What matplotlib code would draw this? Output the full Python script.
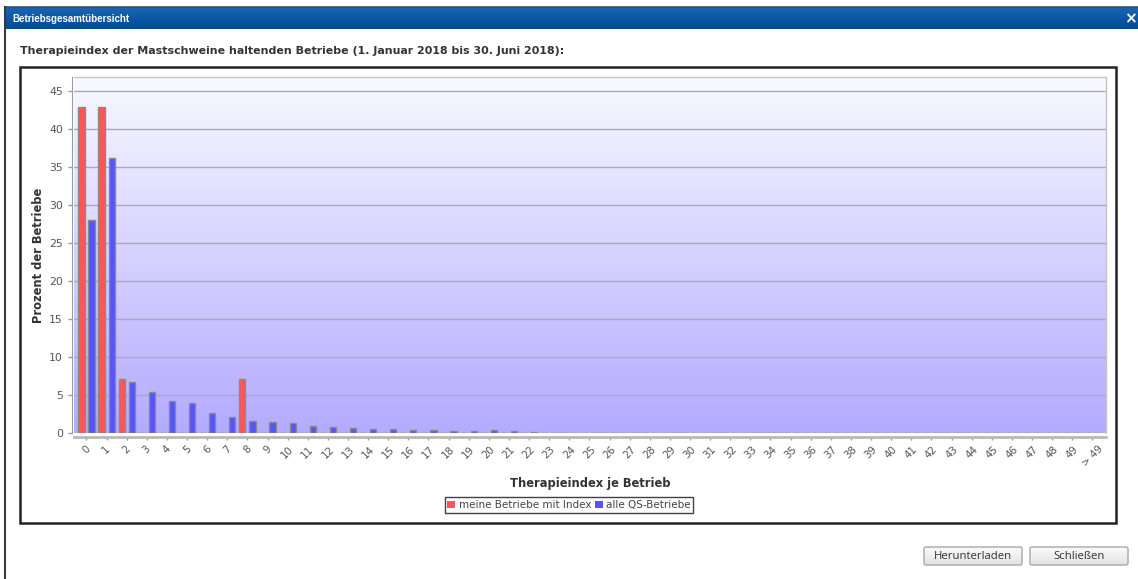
import matplotlib
matplotlib.use('Agg')
import matplotlib.pyplot as plt
import numpy as np
import matplotlib.patches as mpatches

plt.rcParams['font.family'] = ['DejaVu Sans']

# Therapieindex classes 0..49 plus the overflow class
categories = ['0', '1', '2', '3', '4', '5', '6', '7', '8', '9',
              '10', '11', '12', '13', '14', '15', '16', '17', '18', '19',
              '20', '21', '22', '23', '24', '25', '26', '27', '28', '29',
              '30', '31', '32', '33', '34', '35', '36', '37', '38', '39',
              '40', '41', '42', '43', '44', '45', '46', '47', '48', '49', '> 49']

# percent of own farms per class
meine_betriebe = [42.9, 42.9, 7.1, 0, 0, 0, 0, 0, 7.1, 0,
                  0, 0, 0, 0, 0, 0, 0, 0, 0, 0,
                  0, 0, 0, 0, 0, 0, 0, 0, 0, 0,
                  0, 0, 0, 0, 0, 0, 0, 0, 0, 0,
                  0, 0, 0, 0, 0, 0, 0, 0, 0, 0, 0]

# percent of all QS farms per class
alle_qs = [28.0, 36.2, 6.7, 5.4, 4.3, 3.95, 2.65, 2.15, 1.6, 1.45,
           1.35, 0.98, 0.85, 0.72, 0.62, 0.5, 0.38, 0.37, 0.36, 0.26,
           0.38, 0.26, 0.13, 0.1, 0.1, 0.1, 0.1, 0.1, 0.1, 0.0,
           0.1, 0, 0, 0, 0, 0, 0, 0, 0, 0,
           0, 0, 0, 0, 0, 0, 0, 0, 0, 0, 0.1]

series_labels = ['meine Betriebe mit Index', 'alle QS-Betriebe']

W, H = 1138, 579
RED = '#ff5555'
BLUE = '#5555ff'


def vgrad(top, bottom, n=256):
    top = np.array(matplotlib.colors.to_rgb(top))
    bottom = np.array(matplotlib.colors.to_rgb(bottom))
    t = np.linspace(0, 1, n)[:, None]
    return (top * (1 - t) + bottom * t)[:, None, :]


def fig_rect(x0, y0, x1, y1):
    # pixel box (top-left origin) -> figure fraction [l, b, w, h]
    return [x0 / W, 1 - y1 / H, (x1 - x0) / W, (y1 - y0) / H]


fig = plt.figure(figsize=(W / 100, H / 100), dpi=100)
fig.patch.set_facecolor('white')

# dialog chrome, drawn in pixel units
bg = fig.add_axes([0, 0, 1, 1], zorder=0)
bg.set_xlim(0, W)
bg.set_ylim(H, 0)
bg.axis('off')

bg.imshow(vgrad('#1a66b3', '#004b96'), extent=[5, W, 29, 7], aspect='auto', zorder=1)
bg.plot([5, W], [7, 7], color='#4a4a4a', lw=1.2, zorder=2)
bg.plot([5, 5], [7, H], color='#3a3a3a', lw=1.5, zorder=2)
bg.text(12, 18.5, 'Betriebsgesamtübersicht', color='white', fontsize=7.0,
        fontweight='bold', family='Liberation Sans', va='center', ha='left', zorder=3)
bg.text(1130, 18.5, '×', color='white', fontsize=11, fontweight='bold',
        va='center', ha='center', zorder=3)

bg.text(20, 51, 'Therapieindex der Mastschweine haltenden Betriebe (1. Januar 2018 bis 30. Juni 2018):',
        color='#333333', fontsize=7.9, fontweight='bold', va='center', ha='left')

bg.add_patch(mpatches.Rectangle((20, 67), 1096, 456, fill=False,
                                edgecolor='#222222', lw=1.8, zorder=2))

for x0, label in [(924, 'Herunterladen'), (1030, 'Schließen')]:
    bg.imshow(vgrad('#fbfbfb', '#e2e2e2'), extent=[x0, x0 + 98, 565, 547],
              aspect='auto', zorder=1)
    bg.add_patch(mpatches.FancyBboxPatch((x0, 547), 98, 18,
                                         boxstyle='round,pad=0,rounding_size=2',
                                         fill=False, edgecolor='#a8a8a8', lw=1, zorder=2))
    bg.text(x0 + 49, 556.5, label, color='#333333', fontsize=8.2,
            family='Open Sans', va='center', ha='center', zorder=3)

# chart data area
ax = fig.add_axes(fig_rect(74, 77, 1106, 433.3), zorder=1)

# spine placement first: moving a spine resets its axis ticks
for side in ['top', 'right']:
    ax.spines[side].set_color('#c4c4c4')
    ax.spines[side].set_linewidth(1)
ax.spines['left'].set_position(('outward', 1.3))
ax.spines['left'].set_color('#9a9a9a')
ax.spines['bottom'].set_position(('outward', 2.8))
ax.spines['bottom'].set_color('#b8b8b8')
ax.spines['bottom'].set_linewidth(2)

x = np.arange(len(categories))
xmin, xmax = -0.62, 50.68
ymax = 46.8
ax.set_xlim(xmin, xmax)
ax.set_ylim(0, ymax)
ax.imshow(vgrad('#f9f9ff', '#b3abff'), extent=[xmin, xmax, 0, ymax],
          aspect='auto', zorder=0)
ax.patch.set_visible(False)

width = 0.31
ax.bar(x - 0.25, meine_betriebe, width=width, color=RED, edgecolor='#8a8a8a',
       lw=1, label=series_labels[0], zorder=2)
ax.bar(x + 0.25, alle_qs, width=width, color=BLUE, edgecolor='#8a8a8a',
       lw=1, label=series_labels[1], zorder=2)

ax.set_yticks(np.arange(0, 46, 5))
ax.yaxis.grid(True, color='#a9a9b8', lw=1)
ax.set_axisbelow(True)
for gl in ax.get_ygridlines():
    gl.set_zorder(1)

ax.set_xticks(x)
ax.set_xticklabels(categories, rotation=45, ha='center', va='top',
                   fontsize=7.4, color='#555555')
ax.tick_params(axis='y', labelsize=7.8, labelcolor='#555555', length=3,
               width=1, color='#999999', pad=3.6)
ax.tick_params(axis='x', length=2.5, width=1, color='#999999', pad=2.5)

ax.set_ylabel('Prozent der Betriebe', fontsize=8.3, fontweight='bold',
              color='#333333', labelpad=3)
ax.set_xlabel('Therapieindex je Betrieb', fontsize=8.3, fontweight='bold',
              color='#333333', labelpad=6)

handles = [mpatches.Patch(facecolor=RED, edgecolor='none', label=series_labels[0]),
           mpatches.Patch(facecolor=BLUE, edgecolor='none', label=series_labels[1])]
leg = ax.legend(handles=handles, loc='center', ncol=2,
                bbox_to_anchor=(569 / W, 1 - 505 / H), bbox_transform=fig.transFigure,
                fontsize=7.5, frameon=True, fancybox=False, edgecolor='#111111',
                handlelength=0.75, handleheight=0.75, handletextpad=0.35,
                columnspacing=0.35, borderpad=0.25, borderaxespad=0)
leg.get_frame().set_linewidth(1)
for t in leg.get_texts():
    t.set_color('#444444')

fig.savefig('out.png', dpi=100)
